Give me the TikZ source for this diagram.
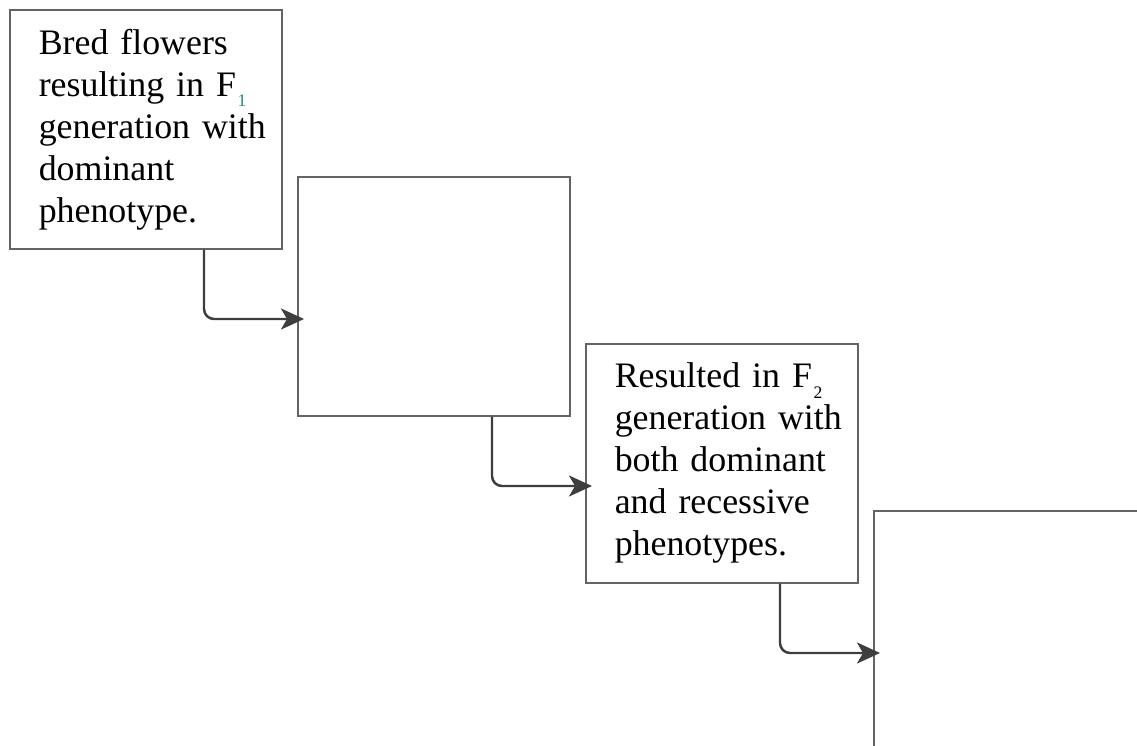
\documentclass[tikz,border=0pt]{standalone}
\usepackage{fontspec}
\setmainfont{Liberation Serif}
\usetikzlibrary{arrows.meta,calc,positioning}

\definecolor{boxgray}{RGB}{100,100,100}
\definecolor{arrowgray}{RGB}{62,62,62}
\definecolor{subteal}{RGB}{30,140,130}

\newcommand{\gensub}[1]{\kern1pt\raisebox{-0.3em}{\fontsize{10}{10}\selectfont #1}}

\tikzset{
  stagebox/.style={draw=boxgray, line width=0.9pt, anchor=north west,
    minimum width=5.44cm, minimum height=4.78cm, inner xsep=0.58cm,
    text width=4.28cm, align=left, font=\fontsize{20.4}{23.9}\selectfont},
  flow/.style={draw=arrowgray, line width=1.4pt, rounded corners=0.2cm,
    -{Stealth[length=0.46cm,width=0.42cm,inset=0.12cm]}, shorten >=-0.14cm}
}

\begin{document}
\begin{tikzpicture}
    \def \stepX {5.76cm};
    \def \stepY {3.34cm};
    \def \drop {3.9cm};
    \def \entry {2.86cm};

    \useasboundingbox (0,0) rectangle (22.74,-14.92);
    \clip (0,0) rectangle (22.74,-14.92);

    % the four stages, each one step down and to the right
    \node[stagebox] (stage1) at (0.18,-0.18)
      {Bred flowers\\ resulting in F\gensub{\textcolor{subteal}{1}}\\ generation~with\\ dominant\\ phenotype.};
    \node[stagebox] (stage2) at ($(stage1.north west)+(\stepX,-\stepY)$) {};
    \node[stagebox] (stage3) at ($(stage2.north west)+(\stepX,-\stepY)$)
      {Resulted in F\gensub{2}\\ generation~with\\ both dominant\\ and recessive\\ phenotypes.};
    \node[stagebox] (stage4) at ($(stage3.north west)+(\stepX,-\stepY)$) {};

    \foreach \i [evaluate=\i as \j using int(\i+1)] in {1,2,3} {
      \draw[flow] ([xshift=\drop]stage\i.south west) |- ([yshift=-\entry]stage\j.north west);
    }
\end{tikzpicture}
\end{document}
